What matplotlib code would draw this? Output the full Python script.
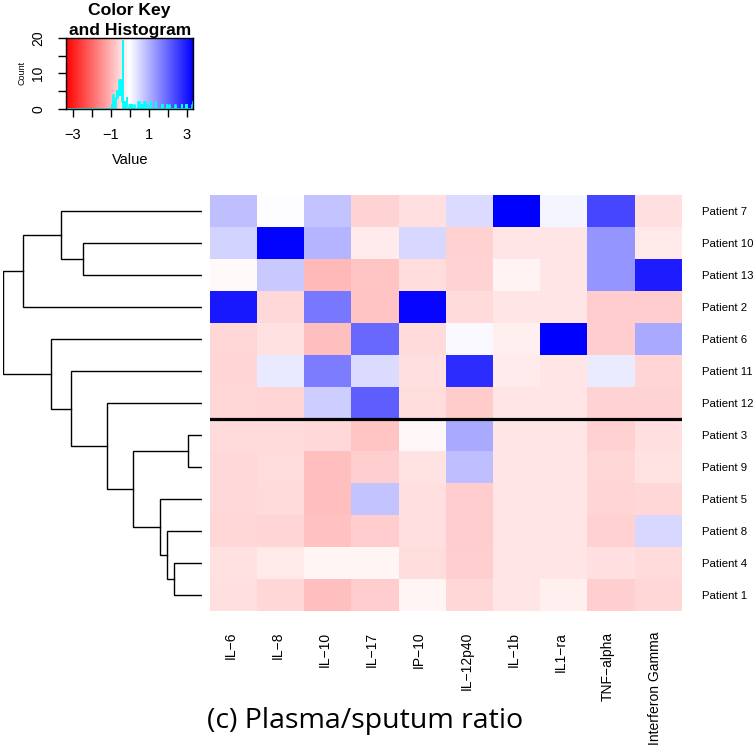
import numpy as np
import matplotlib
matplotlib.use("Agg")
import matplotlib.pyplot as plt
from matplotlib.colors import LinearSegmentedColormap
from matplotlib.transforms import ScaledTranslation

plt.rcParams['font.family'] = ['Liberation Sans', 'DejaVu Sans']

# cytokines (columns) and patients (rows, in dendrogram order)
cytokines = ["IL−6", "IL−8", "IL−10", "IL−17", "IP−10", "IL−12p40",
             "IL−1b", "IL1−ra", "TNF−alpha", "Interferon Gamma"]
patients = ["Patient 7", "Patient 10", "Patient 13", "Patient 2", "Patient 6",
            "Patient 11", "Patient 12", "Patient 3", "Patient 9", "Patient 5",
            "Patient 8", "Patient 4", "Patient 1"]

# scaled plasma/sputum ratio
ratio = [
    [0.85, 0.03, 0.80, -0.59, -0.41, 0.46, 3.35, 0.13, 2.43, -0.42],
    [0.59, 3.30, 0.98, -0.26, 0.53, -0.60, -0.33, -0.33, 1.38, -0.30],
    [-0.09, 0.72, -0.92, -0.75, -0.44, -0.58, -0.16, -0.33, 1.40, 2.96],
    [3.02, -0.49, 1.77, -0.79, 3.28, -0.48, -0.33, -0.33, -0.66, -0.67],
    [-0.53, -0.40, -0.85, 1.97, -0.46, 0.09, -0.22, 3.35, -0.65, 1.12],
    [-0.54, 0.30, 1.70, 0.46, -0.43, 2.76, -0.26, -0.33, 0.26, -0.56],
    [-0.52, -0.55, 0.66, 2.10, -0.45, -0.68, -0.33, -0.33, -0.59, -0.57],
    [-0.46, -0.47, -0.49, -0.76, -0.10, 1.12, -0.33, -0.33, -0.61, -0.43],
    [-0.50, -0.45, -0.83, -0.62, -0.36, 0.85, -0.33, -0.33, -0.53, -0.38],
    [-0.49, -0.46, -0.84, 0.79, -0.43, -0.66, -0.33, -0.33, -0.56, -0.53],
    [-0.53, -0.56, -0.82, -0.66, -0.42, -0.67, -0.33, -0.33, -0.60, 0.53],
    [-0.40, -0.30, -0.12, -0.13, -0.44, -0.62, -0.33, -0.33, -0.43, -0.47],
    [-0.43, -0.53, -0.83, -0.66, -0.12, -0.53, -0.33, -0.22, -0.63, -0.52],
]

# row dendrogram: (left, right, merge height)
row_tree = (
    (("Patient 7", ("Patient 10", "Patient 13", 5.95), 7.04), "Patient 2", 8.92),
    ("Patient 6",
     ("Patient 11",
      ("Patient 12",
       (("Patient 3", "Patient 9", 0.67),
        ("Patient 5", ("Patient 8", ("Patient 4", "Patient 1", 1.39), 1.75), 2.09),
        3.42),
       4.75),
      6.55),
     7.55),
    9.92)

split_rows = 7  # black line drawn below the first 7 patients

data = np.array(ratio)
vmax = np.abs(data).max()
cmap = LinearSegmentedColormap.from_list("redblue", ["#FF0000", "#FFFFFF", "#0000FF"], N=255)
breaks = np.linspace(-vmax, vmax, 256)

W, H = 755, 750
fig = plt.figure(figsize=(W / 100, H / 100), dpi=100)


def px_axes(x0, y0, x1, y1):
    return fig.add_axes([x0 / W, 1 - y1 / H, (x1 - x0) / W, (y1 - y0) / H])


# heatmap
ax = px_axes(209.7, 195, 681.7, 611)
ax.pcolormesh(np.arange(len(cytokines) + 1), np.arange(len(patients) + 1), data,
              cmap=cmap, vmin=-vmax, vmax=vmax)
ax.set_xlim(0, len(cytokines))
ax.set_ylim(len(patients), 0)
ax.axhline(split_rows, color="black", lw=2.3)
for s in ax.spines.values():
    s.set_visible(False)
ax.set_yticks(np.arange(len(patients)) + 0.5, patients, fontsize=8.2)
ax.yaxis.tick_right()
ax.tick_params(axis="y", length=0, pad=14.5)
ax.set_xticks(np.arange(len(cytokines)) + 0.5, cytokines, rotation=90, fontsize=10)
ax.tick_params(axis="x", length=0, pad=15)
shift = ScaledTranslation(-3 / 100, 0, fig.dpi_scale_trans)
for lab in ax.get_xticklabels():
    lab.set_transform(lab.get_transform() + shift)

# row dendrogram
axd = px_axes(3.3, 195, 201.7, 611)
leaf_y = {p: i + 0.5 for i, p in enumerate(patients)}


def draw(node):
    if isinstance(node, str):
        return leaf_y[node], 0.0
    left, right, h = node
    y1, h1 = draw(left)
    y2, h2 = draw(right)
    axd.plot([h1, h, h, h2], [y1, y1, y2, y2], color="black", lw=1.0,
             solid_joinstyle="miter")
    return (y1 + y2) / 2, h


draw(row_tree)
axd.set_xlim(row_tree[2], 0)
axd.set_ylim(len(patients), 0)
axd.axis("off")

# color key with histogram
axk = px_axes(66, 37.7, 193.3, 109)
counts, _ = np.histogram(data.ravel(), bins=breaks)
ytop = counts.max() / 0.95
centers = (breaks[:-1] + breaks[1:]) / 2
axk.pcolormesh(breaks, [0, ytop], centers[None, :], cmap=cmap, vmin=-vmax, vmax=vmax)
axk.step(breaks, np.append(counts, counts[-1]), where="post", color="cyan", lw=1.2)
axk.set_xlim(-vmax, vmax)
axk.set_ylim(0, ytop)
axk.set_xticks(np.arange(-3, 4), ["−3", "", "−1", "", "1", "", "3"], fontsize=10.5)
axk.set_yticks([0, 5, 10, 15, 20], ["0", "", "10", "", "20"], fontsize=10)
for lab in axk.get_yticklabels():
    lab.set_rotation(90)
    lab.set_va("center")
axk.tick_params(axis="x", length=6, width=1, pad=8)
axk.tick_params(axis="y", length=6, width=1, pad=9)
for s in axk.spines.values():
    s.set_color("black")
    s.set_linewidth(1)
axk.set_ylabel("Count", fontsize=6.5)
axk.yaxis.set_label_coords(-0.31, 0.5)
fig.text(129.7 / W, 1 - 160 / H, "Value", ha="center", va="center", fontsize=10.5)
fig.text(129.7 / W, 1 - 10 / H, "Color Key", ha="center", va="center",
         fontsize=12.6, fontweight="bold")
fig.text(129.7 / W, 1 - 30 / H, "and Histogram", ha="center", va="center",
         fontsize=12.6, fontweight="bold")

fig.text(207 / W, 22 / H, "(c) Plasma/sputum ratio", fontsize=20.5,
         family=["Open Sans", "DejaVu Sans"], va="baseline", ha="left")

fig.savefig("out.png", dpi=100)
